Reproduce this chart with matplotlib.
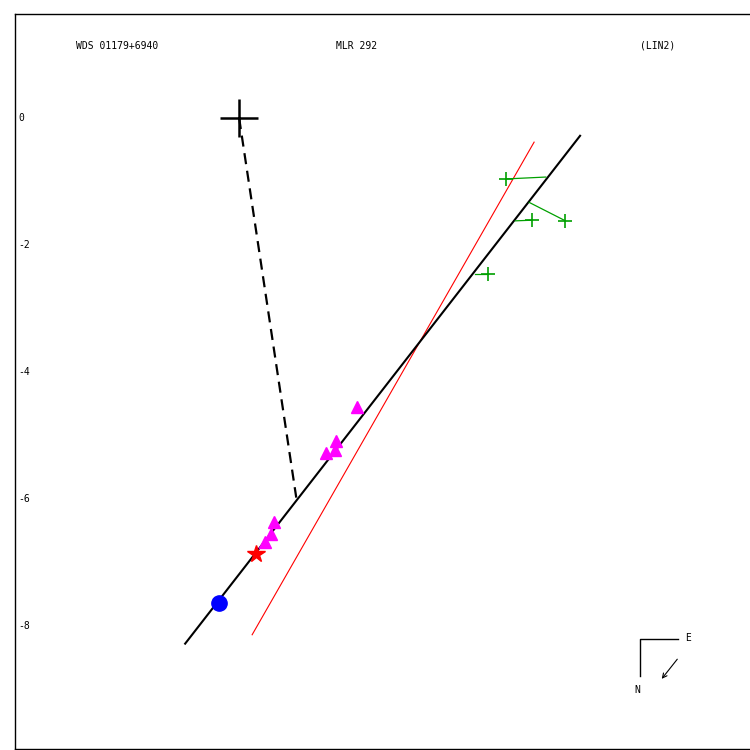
import numpy as np
import matplotlib
matplotlib.use('agg')
from matplotlib import pyplot as plt

# header labels
wds_name = 'WDS 01179+6940'
disc_name = 'MLR 292'
orbit_ref = '(LIN2)'

# y tick values
y_ticks = [0, -2, -4, -6, -8]

# fitted linear motion (black) and alternative line (red)
fit_x = [-0.85, 5.37]
fit_y = [-8.28, -0.28]
alt_x = [0.205, 4.646]
alt_y = [-8.14, -0.38]

# dashed line from primary to closest point on the line
perp_x = [0.0, 0.90]
perp_y = [0.0, -5.98]

# micrometer measures (green) and their residual ends on the line
green_x = [4.20, 4.61, 5.14, 3.92]
green_y = [-0.96, -1.61, -1.62, -2.45]
green_end_x = [4.83, 4.35, 4.57, 3.72]
green_end_y = [-0.93, -1.62, -1.33, -2.45]

# speckle / interferometric measures (magenta triangles)
tri_x = [0.55, 0.50, 0.41, 1.53, 1.37, 1.51, 1.86]
tri_y = [-6.36, -6.55, -6.68, -5.09, -5.28, -5.23, -4.55]

# first measure (blue circle) and last measure (red star)
first_x, first_y = -0.315, -7.64
last_x, last_y = 0.268, -6.87

mono = 'DejaVu Sans Mono'

fig = plt.figure(figsize=(7.5, 7.5), dpi=100)
ax = fig.add_axes([0.02, 0.0013, 0.982, 0.98])
ax.set_xlim(-3.53, 8.07)
ax.set_ylim(-9.94, 1.638)
for s in ax.spines.values():
    s.set_linewidth(1.0)
ax.set_xticks([])
ax.set_yticks([])

ax.plot(alt_x, alt_y, color='red', lw=0.8)
ax.plot(fit_x, fit_y, color='black', lw=1.5)
ax.plot(perp_x, perp_y, color='black', lw=1.6, dashes=(5, 3))

for gx, gy, ex, ey in zip(green_x, green_y, green_end_x, green_end_y):
    ax.plot([gx, ex], [gy, ey], color='#00a000', lw=0.9)
ax.plot(green_x, green_y, '+', color='#00a000', ms=10, mew=1.2, ls='none')

ax.plot(tri_x, tri_y, '^', color='#ff00ff', ms=9, ls='none')
ax.plot(first_x, first_y, 'o', color='#0000ff', ms=11)
ax.plot(last_x, last_y, '*', color='red', ms=13)

# primary star
ax.plot(0, 0, '+', color='black', ms=27, mew=1.8)

# y tick labels inside the frame
for t in y_ticks:
    ax.text(0.004, t, str(t), transform=ax.get_yaxis_transform(),
            ha='left', va='center', fontsize=7, family=mono)

# header
ax.text(0.139, 0.957, wds_name, transform=ax.transAxes, ha='center', va='center',
        fontsize=7, family=mono)
ax.text(0.464, 0.957, disc_name, transform=ax.transAxes, ha='center', va='center',
        fontsize=7, family=mono)
ax.text(0.872, 0.957, orbit_ref, transform=ax.transAxes, ha='center', va='center',
        fontsize=7, family=mono)

# compass
def px(x, y):
    return ((x - 15) / 736.5, (749 - y) / 735.0)

cx, cy = px(640, 639)
ex, ey = px(678, 639)
nx, ny = px(640, 676)
ax.plot([nx, cx, ex], [ny, cy, ey], color='black', lw=1, transform=ax.transAxes)
ax.text(*px(688, 638), 'E', transform=ax.transAxes, ha='center', va='center',
        fontsize=7, family=mono)
ax.text(*px(637, 690), 'N', transform=ax.transAxes, ha='center', va='center',
        fontsize=7, family=mono)
ax.annotate('', xy=px(660, 681), xytext=px(679, 657), xycoords='axes fraction',
            arrowprops=dict(arrowstyle='->', lw=0.8, color='black', mutation_scale=8))

fig.savefig('out.png', dpi=100)
